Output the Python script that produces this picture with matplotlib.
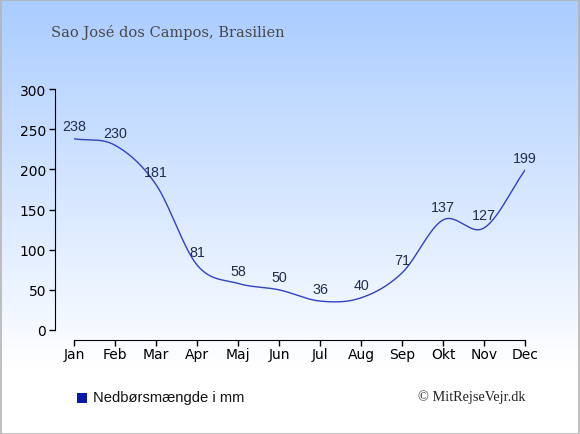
import matplotlib
matplotlib.use('Agg')
import matplotlib.pyplot as plt
import numpy as np
from matplotlib.patches import Rectangle

# Data
months = ['Jan', 'Feb', 'Mar', 'Apr', 'Maj', 'Jun', 'Jul', 'Aug', 'Sep', 'Okt', 'Nov', 'Dec']
rain = [238, 230, 181, 81, 58, 50, 36, 40, 71, 137, 127, 199]
yticks = [0, 50, 100, 150, 200, 250, 300]


def catmull_rom(y, n=30):
    # smooth curve through the points (Catmull-Rom, end slopes one-sided)
    y = np.asarray(y, dtype=float)
    m = np.zeros_like(y)
    m[1:-1] = (y[2:] - y[:-2]) / 2
    m[0] = y[1] - y[0]
    m[-1] = y[-1] - y[-2]
    xs, ys = [], []
    for i in range(len(y) - 1):
        t = np.linspace(0, 1, n, endpoint=False)
        h00 = 2 * t**3 - 3 * t**2 + 1
        h10 = t**3 - 2 * t**2 + t
        h01 = -2 * t**3 + 3 * t**2
        h11 = t**3 - t**2
        xs.append(i + t)
        ys.append(h00 * y[i] + h10 * m[i] + h01 * y[i + 1] + h11 * m[i + 1])
    xs.append([len(y) - 1])
    ys.append([y[-1]])
    return np.concatenate(xs), np.concatenate(ys)


fig = plt.figure(figsize=(5.8, 4.35), dpi=100)

# background gradient
bg = fig.add_axes([0, 0, 1, 1], zorder=-10)
h = 435
frac = np.clip(np.arange(h) / 370.0, 0, 1)
top = np.array([170, 204, 255]) / 255.0
grad = top[None, :] * (1 - frac[:, None]) + np.ones(3)[None, :] * frac[:, None]
bg.imshow(grad[:, None, :], aspect='auto', extent=[0, 1, 0, 1])
bg.add_patch(Rectangle((0.001, 0.001), 0.997, 0.997, transform=bg.transAxes,
                       fill=False, edgecolor='#b4b4b4', linewidth=1.2))
bg.set_xlim(0, 1)
bg.set_ylim(0, 1)
bg.axis('off')

ax = fig.add_axes([74 / 580, (435 - 331) / 435, (525 - 74) / 580, (331 - 90) / 435])
ax.patch.set_alpha(0)

x = np.arange(len(months))
sx, sy = catmull_rom(rain)
ax.plot(sx, sy, color='#3341c0', linewidth=1.0)

for i, v in enumerate(rain):
    ax.annotate(str(v), (x[i], v), xytext=(0, 4), textcoords='offset points',
                ha='center', va='bottom', fontsize=10.3, color='#1f2d4e',
                family='Liberation Sans')

ax.set_xlim(0, 11)
ax.set_ylim(0, 300)
ax.set_xticks(x)
ax.set_xticklabels(months, fontsize=9, family='Liberation Sans')
ax.set_yticks(yticks)
ax.set_yticklabels([str(t) for t in yticks], fontsize=9, family='Liberation Sans')
for s in ['top', 'right']:
    ax.spines[s].set_visible(False)
ax.spines['left'].set_position(('outward', 14))
ax.spines['bottom'].set_position(('outward', 7.5))
ax.tick_params(axis='both', length=4, width=1, color='black', direction='out', pad=2)
ax.tick_params(axis='x', pad=0.5)

fig.text(51 / 580, 1 - 32 / 435, 'Sao José dos Campos, Brasilien', fontsize=10.5,
         family='DejaVu Serif', color='#484848', va='center', ha='left')

fig.patches.append(Rectangle((77 / 580, 1 - 404 / 435), 10 / 580, 10 / 435,
                             transform=fig.transFigure, facecolor='#0a1aa8',
                             edgecolor='none'))
fig.text(93 / 580, 1 - 398 / 435, 'Nedbørsmængde i mm', fontsize=10.6,
         family='Liberation Sans', color='#111111', va='center', ha='left')
fig.text(526 / 580, 1 - 397 / 435, '© MitRejseVejr.dk', fontsize=10.3,
         family='Liberation Serif', color='#222222', va='center', ha='right')

fig.savefig('out.png', dpi=100)
